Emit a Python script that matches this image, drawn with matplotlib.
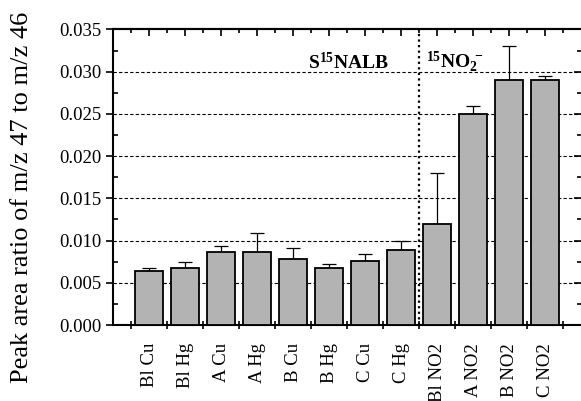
import matplotlib
matplotlib.use("Agg")
import matplotlib.pyplot as plt
import numpy as np

plt.rcParams['font.family'] = ['Liberation Serif', 'DejaVu Serif']
plt.rcParams['mathtext.fontset'] = 'custom'
plt.rcParams['mathtext.rm'] = 'Liberation Serif'
plt.rcParams['mathtext.bf'] = 'Liberation Serif:bold'
plt.rcParams['mathtext.it'] = 'Liberation Serif:italic'

# data
samples = ['Bl Cu', 'Bl Hg', 'A Cu', 'A Hg', 'B Cu', 'B Hg', 'C Cu', 'C Hg',
           'Bl NO2', 'A NO2', 'B NO2', 'C NO2']
ratio = [0.0064, 0.00675, 0.0087, 0.0086, 0.0078, 0.0068, 0.0076, 0.00885,
         0.0120, 0.0250, 0.0290, 0.0290]
err_up = [0.0003, 0.0007, 0.0006, 0.0023, 0.0013, 0.0004, 0.0008, 0.0011,
          0.0060, 0.0009, 0.0040, 0.0005]
yticks = [0.000, 0.005, 0.010, 0.015, 0.020, 0.025, 0.030, 0.035]

fig = plt.figure(figsize=(5.81, 4.01), dpi=100)
ax = fig.add_axes([0.1945, 0.1895, 0.8055, 0.737])

x = np.arange(1, len(samples) + 1)
ax.bar(x, ratio, width=0.8, color='#b3b3b3', edgecolor='black', linewidth=1.3, zorder=3)
ax.errorbar(x, ratio, yerr=[np.zeros(len(err_up)), err_up], fmt='none',
            ecolor='black', elinewidth=0.9, capsize=5, capthick=0.9, zorder=2)

ax.set_xlim(0, 13)
ax.set_ylim(0, 0.035)

# dashed grid
for yv in yticks[1:-1]:
    ax.axhline(yv, color='black', linestyle=(0, (3, 2)), linewidth=0.8, zorder=1)
ax.axvline(8.5, color='black', linestyle=(0, (1, 1.5)), linewidth=1.6, zorder=4)

# x axis: labels at bars, ticks between bars
ax.set_xticks(x)
ax.set_xticklabels(samples, rotation=90, fontsize=13.5)
ax.set_xticks(np.arange(0.5, 13, 1), minor=True)
ax.tick_params(axis='x', which='major', length=0, pad=13)
ax.tick_params(axis='x', which='minor', direction='inout', length=6, width=1.2)

# y axis left
ax.set_yticks(yticks)
ax.set_yticklabels([f'{v:.3f}' for v in yticks], fontsize=13.5)
ax.set_yticks(np.arange(0.0025, 0.035, 0.005), minor=True)
ax.tick_params(axis='y', which='major', direction='out', length=5, width=1.2, pad=3)
ax.tick_params(axis='y', which='minor', direction='in', length=3.5, width=1.2)

ax.spines['right'].set_visible(False)
for s in ['left', 'bottom', 'top']:
    ax.spines[s].set_linewidth(1.5)

# top ticks
top = ax.secondary_xaxis('top')
top.set_xticks(x)
top.set_xticks(np.arange(0.5, 13, 1), minor=True)
top.tick_params(which='major', direction='in', length=5, width=1.2, labeltop=False)
top.tick_params(which='minor', direction='in', length=3, width=1.2)
top.spines['top'].set_linewidth(1.5)

# right ticks
right = ax.secondary_yaxis('right')
right.set_yticks(yticks)
right.set_yticks(np.arange(0.0025, 0.035, 0.005), minor=True)
right.tick_params(which='major', direction='in', length=5, width=1.2, labelright=False)
right.tick_params(which='minor', direction='in', length=3, width=1.2)
right.spines['right'].set_visible(False)

fig.text(22 / 581, 1 - 197 / 401, 'Peak area ratio of m/z 47 to m/z 46',
         fontsize=19, rotation=90, ha='center', va='center')

ax.text(6.55, 0.0311, r'$\mathbf{S^{15}NALB}$', fontsize=14, ha='center', va='center')
ax.text(8.7, 0.0311, r'$\mathbf{^{15}NO_2^{\ -}}$', fontsize=14, ha='left', va='center')

fig.savefig('out.png', dpi=100)
